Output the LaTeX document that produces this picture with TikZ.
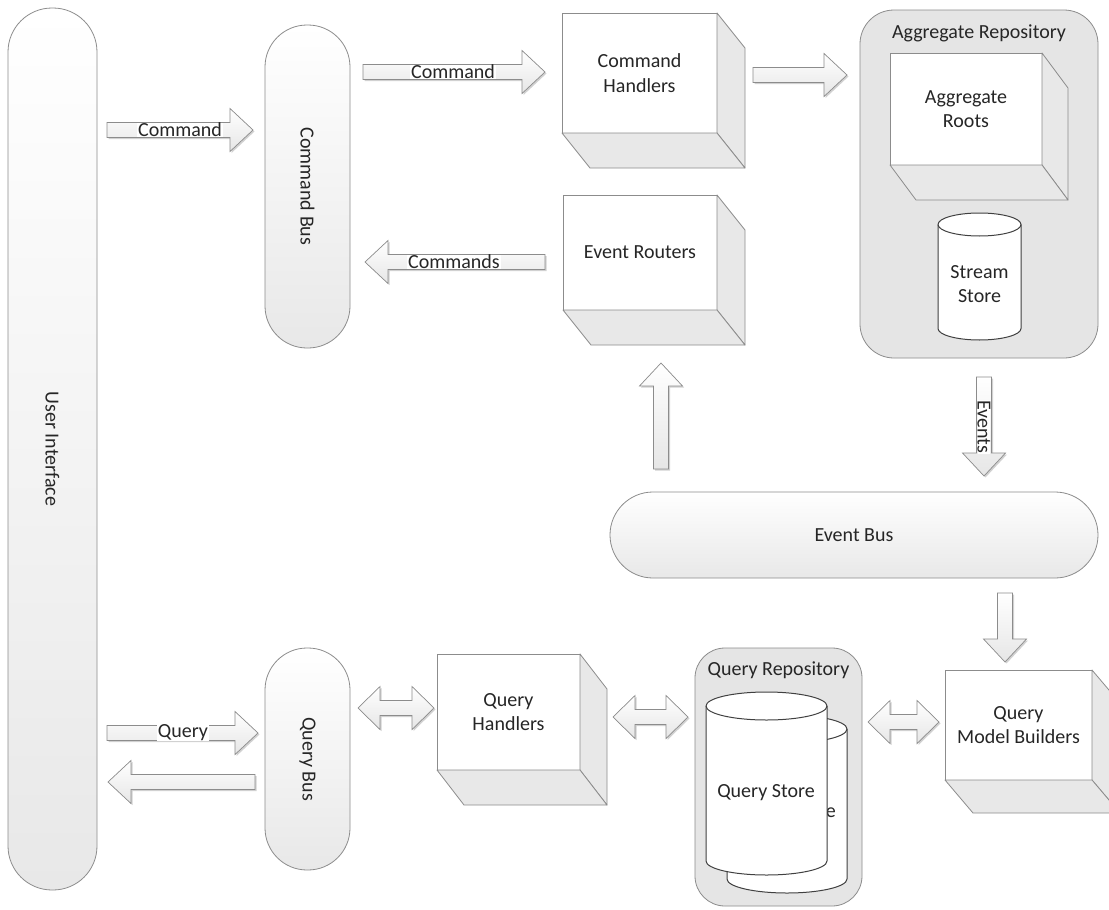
\documentclass[tikz,border=0pt]{standalone}
\usepackage{fontspec}
\setmainfont{Carlito}
\usetikzlibrary{shadows}
\definecolor{edge}{HTML}{8C8C8C}
\definecolor{face}{HTML}{E8E8E8}
\definecolor{cont}{HTML}{E5E5E5}
\definecolor{arr}{HTML}{E6E6E6}
\definecolor{ink}{HTML}{262626}
\tikzset{
  txt/.style={text=ink,font=\fontsize{20}{24.4}\selectfont,align=center,inner sep=0pt},
  lbl/.style={txt,fill=white,inner xsep=1pt,inner ysep=0pt},
  bus/.style={draw=edge,line width=0.8pt,top color=white,bottom color=face,outer sep=0pt},
  container/.style={draw=edge,line width=0.8pt,fill=cont,rounded corners=34pt,outer sep=0pt},
  frontface/.style={draw=edge,line width=0.8pt,fill=white,outer sep=0pt,inner sep=0pt,text=ink,font=\fontsize{20}{24.4}\selectfont,align=center},
  sideface/.style={draw=edge,line width=0.8pt,fill=face,line join=round},
  cylface/.style={draw=black!75,line width=1pt,fill=white},
  cylline/.style={draw=black!75,line width=1pt},
  arrowshape/.style={draw=edge,line width=0.7pt,top color=white,bottom color=arr,line join=miter,
    drop shadow={shadow xshift=1.5pt,shadow yshift=-1.5pt,opacity=0.18,fill=black}},
}
\newcommand\blockarrow[4]{%
  \begin{scope}[shift={(#1,#2)},rotate=#4]
    \path[arrowshape] (0,-7.5) -- (#3-23,-7.5) -- (#3-23,-21.5) -- (#3,0) -- (#3-23,21.5) -- (#3-23,7.5) -- (0,7.5) -- cycle;
  \end{scope}}
\newcommand\dblarrow[3]{%
  \path[arrowshape] (#1,#2) -- (#1+22,#2-21.5) -- (#1+22,#2-7.5) -- (#3-22,#2-7.5) -- (#3-22,#2-21.5) -- (#3,#2)
    -- (#3-22,#2+21.5) -- (#3-22,#2+7.5) -- (#1+22,#2+7.5) -- (#1+22,#2+21.5) -- cycle;}
\newcommand\threed[3]{%
  \path[sideface] (#1.north east) -- ([shift={(#2,#3)}]#1.north east) -- ([shift={(#2,#3)}]#1.south east) -- (#1.south east) -- cycle;
  \path[sideface] (#1.south west) -- ([shift={(#2,#3)}]#1.south west) -- ([shift={(#2,#3)}]#1.south east) -- (#1.south east) -- cycle;}
\newcommand\cyl[5]{%
  \pgfmathsetmacro\cylrx{(#2-#1)/2}
  \path[cylface] (#1,#3+#5) -- (#1,#4-#5) arc[start angle=180,end angle=360,x radius=\cylrx pt,y radius=#5pt]
    -- (#2,#3+#5) arc[start angle=0,end angle=180,x radius=\cylrx pt,y radius=#5pt] -- cycle;
  \path[cylline] (#1,#3+#5) arc[start angle=180,end angle=360,x radius=\cylrx pt,y radius=#5pt];}
\begin{document}
\begin{tikzpicture}[x=1pt,y=-1pt]
\useasboundingbox (0,0) rectangle (1109,910);
\clip (0,0) rectangle (1109,910);
\fill[white] (0,0) rectangle (1109,910);

% containers
\node[container,minimum width=238pt,minimum height=348pt] (arepo) at (979,184) {};
\node[txt] (arepot) at (979,33) {Aggregate Repository};
\node[container,rounded corners=30pt,minimum width=167pt,minimum height=258pt] (qrepo) at (778.5,777) {};
\node[txt] (qrepot) at (778.5,670) {Query Repository};

% buses
\node[bus,rounded corners=44pt,minimum width=89pt,minimum height=882pt] (ui) at (52.5,449) {};
\node[txt,rotate=-90] (uit) at (52.5,449) {User Interface};
\node[bus,rounded corners=42pt,minimum width=85pt,minimum height=323pt] (cb) at (307.5,186.5) {};
\node[txt,rotate=-90] (cbt) at (307.5,186.5) {Command Bus};
\node[bus,rounded corners=42pt,minimum width=85pt,minimum height=222pt] (qb) at (307.5,759) {};
\node[txt,rotate=-90] (qbt) at (307.5,759) {Query Bus};
\node[bus,rounded corners=43pt,minimum width=488pt,minimum height=86pt] (eb) at (854,535) {};
\node[txt] (ebt) at (854,535) {Event Bus};

% 3D boxes
\node[frontface,minimum width=155pt,minimum height=120pt] (ch) at (639.5,73) {Command\\Handlers};
\threed{ch}{28}{35}
\node[frontface,minimum width=154pt,minimum height=115pt] (er) at (640,252.5) {Event Routers};
\threed{er}{28}{35}
\node[frontface,minimum width=152pt,minimum height=112pt] (ar) at (966,109) {Aggregate\\Roots};
\threed{ar}{26}{35}
\node[frontface,minimum width=143pt,minimum height=116pt] (qh) at (508.5,712) {Query\\Handlers};
\threed{qh}{27}{35}
\node[frontface,minimum width=147pt,minimum height=110pt] (qmb) at (1018.5,725) {Query\\Model Builders};
\threed{qmb}{28}{33}

% cylinders
\cyl{938}{1021}{213}{340}{11.5}
\node[txt] (ss) at (979.5,284) {Stream\\Store};
\cyl{727}{847}{715}{893}{14}
\node[txt] (qs2) at (787,813) {Query Store};
\cyl{706}{827}{692}{875}{14}
\node[txt] (qs) at (766,793) {Query Store};

% arrows
\blockarrow{107}{130}{146}{0}
\node[lbl] (l1) at (180,130) {Command};
\blockarrow{363}{72}{182}{0}
\node[lbl] (l2) at (453,72) {Command};
\blockarrow{753}{75}{94}{0}
\blockarrow{545}{262}{180}{180}
\node[lbl] (l3) at (454,262) {Commands};
\blockarrow{661}{469}{106}{90}
\blockarrow{984}{377}{99}{-90}
\node[lbl,rotate=-90] (l4) at (984,427) {Events};
\blockarrow{1005}{593}{69}{-90}
\blockarrow{107}{733}{151}{0}
\node[lbl] (l5) at (183,733) {Query};
\blockarrow{255}{782}{147}{180}
\dblarrow{358}{708}{434}
\dblarrow{613}{717}{688}
\dblarrow{868}{722}{939}
\end{tikzpicture}
\end{document}
